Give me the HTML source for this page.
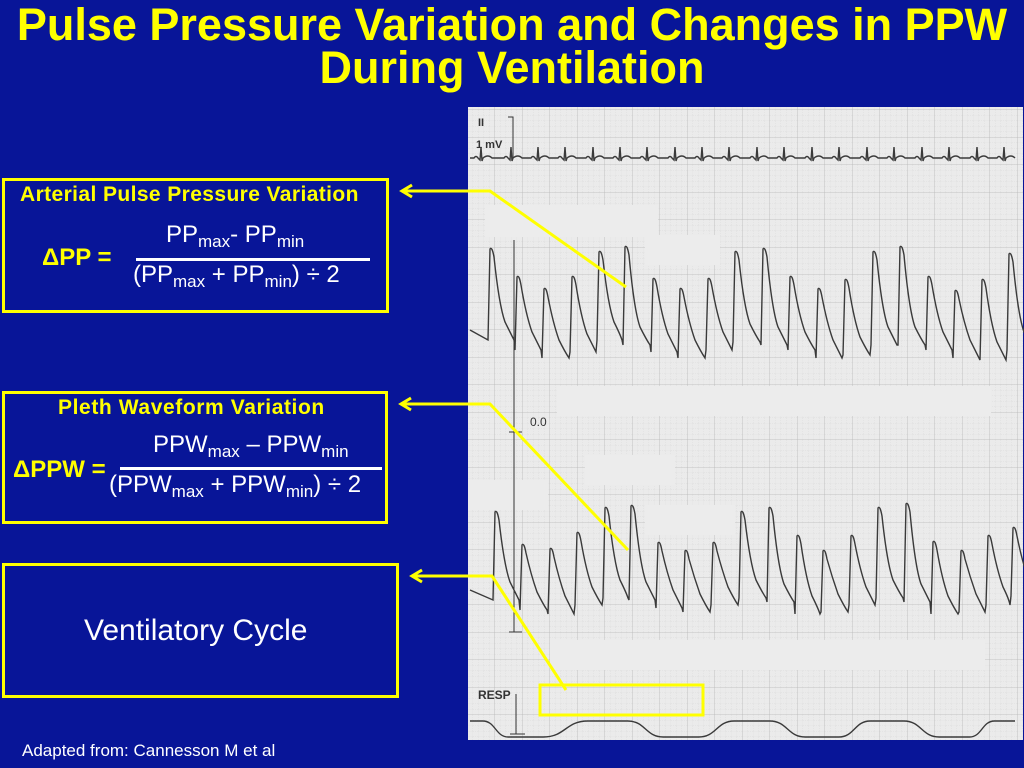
<!DOCTYPE html>
<html><head><meta charset="utf-8">
<style>
body{margin:0;width:1024px;height:768px;background:#081598;overflow:hidden;position:relative;font-family:"Liberation Sans",Arial,sans-serif}
.t{position:absolute;left:0;width:1024px;text-align:center;color:#ffff00;font-weight:bold;font-size:45px;line-height:44px}
.box{position:absolute;border:3px solid #ffff00;box-sizing:border-box}
.y{color:#ffff00;font-weight:bold;position:absolute;white-space:nowrap}
.w{color:#fff;position:absolute;white-space:nowrap;font-size:24px;line-height:28px}
sub{font-size:17px;vertical-align:-5px;line-height:0}
.bar{position:absolute;height:3px;background:#fff}
</style></head><body>
<div class="t" style="top:3px">Pulse Pressure Variation and Changes in PPW</div>
<div class="t" style="top:46px">During Ventilation</div>

<div class="box" style="left:2px;top:178px;width:387px;height:135px">
 <div class="y" style="left:15px;top:2px;font-size:21px;letter-spacing:0.4px">Arterial Pulse Pressure Variation</div>
 <div class="y" style="left:37px;top:63px;font-size:24px">ΔPP =</div>
 <div class="w" style="left:161px;top:40px">PP<sub>max</sub>- PP<sub>min</sub></div>
 <div class="bar" style="left:131px;top:77px;width:234px"></div>
 <div class="w" style="left:128px;top:80px">(PP<sub>max</sub> + PP<sub>min</sub>) ÷ 2</div>
</div>

<div class="box" style="left:2px;top:391px;width:386px;height:133px">
 <div class="y" style="left:53px;top:2px;font-size:21px;letter-spacing:0.6px">Pleth Waveform Variation</div>
 <div class="y" style="left:8px;top:62px;font-size:24px">ΔPPW =</div>
 <div class="w" style="left:148px;top:37px">PPW<sub>max</sub> – PPW<sub>min</sub></div>
 <div class="bar" style="left:115px;top:73px;width:262px"></div>
 <div class="w" style="left:104px;top:77px">(PPW<sub>max</sub> + PPW<sub>min</sub>) ÷ 2</div>
</div>

<div class="box" style="left:2px;top:563px;width:397px;height:135px">
 <div class="w" style="left:79px;top:48px;font-size:30px;line-height:34px">Ventilatory Cycle</div>
</div>

<div class="w" style="left:22px;top:741px;font-size:17px;line-height:20px">Adapted from: Cannesson M et al</div>

<svg id="s" width="1024" height="768" style="position:absolute;left:0;top:0">
 <defs>
  <pattern id="g1" width="5.5" height="5.5" patternUnits="userSpaceOnUse"><path d="M5.5 0V5.5H0" fill="none" stroke="#cfcfcf" stroke-width="0.5" stroke-dasharray="1 1"/></pattern>
  <pattern id="g2" width="27.5" height="27.5" patternUnits="userSpaceOnUse"><path d="M27.5 0V27.5H0" fill="none" stroke="#b9b9b9" stroke-width="0.8"/></pattern>
 </defs>
 <rect x="468" y="107" width="555" height="633" fill="#ebebeb"/>
 <rect x="468" y="107" width="555" height="633" fill="url(#g1)"/>
 <rect x="468" y="107" width="555" height="633" fill="url(#g2)"/>
 <g fill="#ececec">
  <rect x="485" y="205" width="173" height="32"/>
  <rect x="645" y="235" width="75" height="30"/>
  <rect x="557" y="386" width="434" height="30"/>
  <rect x="585" y="455" width="90" height="30"/>
  <rect x="468" y="480" width="80" height="30"/>
  <rect x="645" y="505" width="90" height="30"/>
  <rect x="550" y="640" width="435" height="30"/>
 </g>
 <text x="478" y="126" font-size="11" font-weight="bold" fill="#333" font-family="Liberation Sans">II</text>
 <text x="476" y="148" font-size="11" font-weight="bold" fill="#333" font-family="Liberation Sans">1 mV</text>
 <path d="M508 117H513V158" stroke="#333" fill="none"/>
 <text x="530" y="426" font-size="12" fill="#333" font-family="Liberation Sans">0.0</text>
 <path d="M514 240V632M509 432H522M509 632H522" stroke="#333" fill="none"/>
 <text x="478" y="699" font-size="12" font-weight="bold" fill="#333" font-family="Liberation Sans">RESP</text>
 <path d="M516 694V734M510 734H525" stroke="#333" fill="none"/>
 <g id="traces" fill="none" stroke="#3a3a3a" stroke-width="1.4"></g>
 <g stroke="#ffff00" stroke-width="3" fill="none">
  <path d="M467 191H490L626 287"/>
  <path d="M467 404H490L628 550"/>
  <path d="M467 576H492L566 690"/>
  <rect x="540" y="685" width="163" height="30"/>
  <path d="M467 191H402M412 185L402 191L412 197M467 404H401M411 398L401 404L411 410M467 576H412M422 570L412 576L422 582"/>
 </g>
</svg>
<script>
const artPeakX=[491,518,545,573,600,626,654,681,709,736,764,791,819,846,874,901,929,956,983,1010];
const artPeakY=[249,277,289,277,252,247,279,289,279,252,249,277,289,280,252,247,277,291,280,254];
const artTroughY=[340,350,358,352,340,345,352,358,350,342,345,350,358,355,345,345,350,358,360,350];
const plePeakX=[496,523,551,578,606,632,659,686,714,742,770,798,824,852,879,907,934,962,989,1014];
const plePeakY=[512,545,549,533,508,506,543,551,543,512,508,536,551,536,508,504,542,551,536,528];
const pleTroughY=[600,610,614,605,598,600,608,612,605,598,602,614,612,605,598,602,614,612,605,596];
const respHighX=[610,752,886,1007];
const respLowX=[521,681,823,957];
const ecgBeatX=[480,510,537,564,592,619,646,674,701,728,756,783,811,838,866,893,921,948,976,1003];
const ns='http://www.w3.org/2000/svg';
const g=document.getElementById('traces');
function add(d,name){const p=document.createElementNS(ns,'path');p.setAttribute('d',d);


g.appendChild(p);}
let e='M470 158';ecgBeatX.forEach(x=>{e+=` L${x-6} 158 Q${x-4} 155 ${x-2} 158 L${x} 160 L${x+1} 147 L${x+2} 161 L${x+3} 158 Q${x+8} 154 ${x+12} 158`;});e+=' L1015 158';add(e,'ecg-trace');
function pulse(px,py,ty,name){let d='M470 '+(ty[0]-10);px.forEach((x,i)=>{const t=ty[i],p=py[i];const nx=i<px.length-1?px[i+1]:x+27;
d+=` L${x-3} ${t} L${x-1} ${p} Q${x+1} ${p-3} ${x+3} ${p+8} Q${x+8} ${t-35} ${x+14} ${t-18} Q${x+20} ${t-6} ${nx-4} ${t}`;});add(d,name);}
pulse(artPeakX,artPeakY,artTroughY,'arterial-pressure-trace');
pulse(plePeakX,plePeakY,pleTroughY,'pleth-trace');
const hi=721,lo=737;let pts=[];respLowX.forEach(x=>pts.push([x,lo]));respHighX.forEach(x=>pts.push([x,hi]));pts.sort((a,b)=>a[0]-b[0]);
let r='M470 '+hi;let px=470,py=hi;pts.forEach(([x,y])=>{const m=(px+x)/2;r+=` L${px+(x-px)*0.25} ${py} C${m} ${py} ${m} ${y} ${x-(x-px)*0.25} ${y} L${x} ${y}`;px=x;py=y;});r+=` L1015 ${py}`;add(r,'resp-trace');
</script>
</body></html>
